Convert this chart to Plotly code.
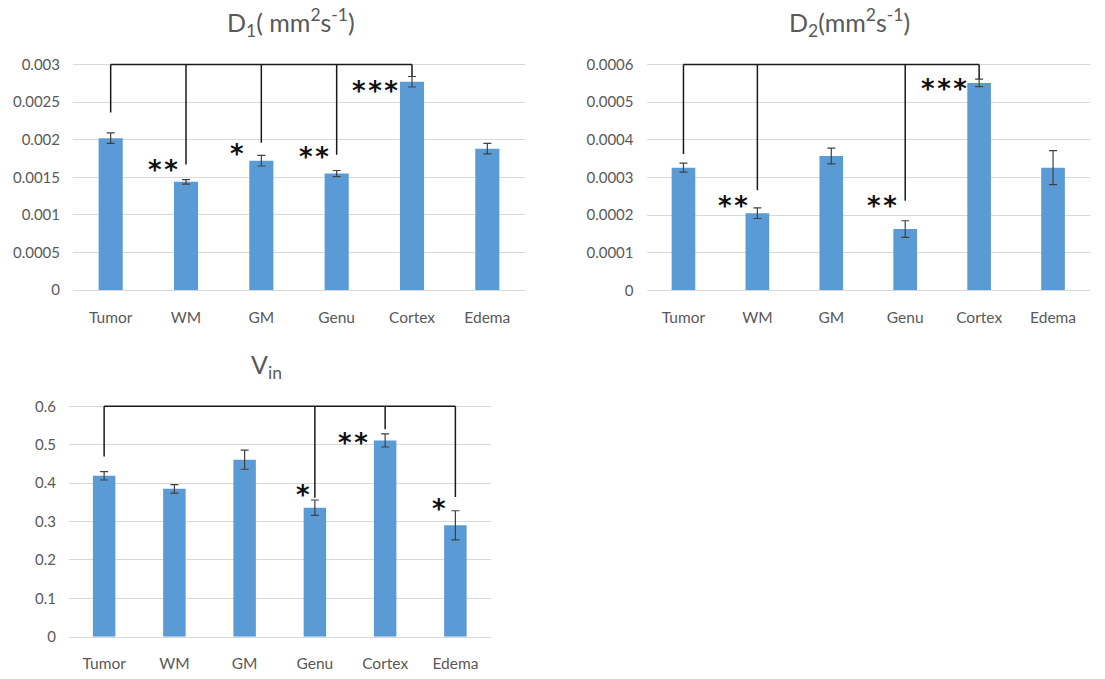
import plotly.graph_objects as go

# Regions compared in the study
categories = ["Tumor", "WM", "GM", "Genu", "Cortex", "Edema"]

# D1 (mm^2 s^-1): means and standard errors
d1_mean = [0.00202, 0.00144, 0.00172, 0.00155, 0.00277, 0.00188]
d1_err = [0.00007, 0.00003, 0.00007, 0.00004, 0.00007, 0.00007]
d1_ticks = [0, 0.0005, 0.001, 0.0015, 0.002, 0.0025, 0.003]
d1_ticktext = ["0", "0.0005", "0.001", "0.0015", "0.002", "0.0025", "0.003"]

# D2 (mm^2 s^-1)
d2_mean = [0.000326, 0.000205, 0.000357, 0.000163, 0.000551, 0.000326]
d2_err = [0.000012, 0.000014, 0.000021, 0.000022, 0.000010, 0.000045]
d2_ticks = [0, 0.0001, 0.0002, 0.0003, 0.0004, 0.0005, 0.0006]
d2_ticktext = ["0", "0.0001", "0.0002", "0.0003", "0.0004", "0.0005", "0.0006"]

# Vin
vin_mean = [0.419, 0.385, 0.461, 0.336, 0.511, 0.290]
vin_err = [0.011, 0.011, 0.025, 0.020, 0.017, 0.038]
vin_ticks = [0, 0.1, 0.2, 0.3, 0.4, 0.5, 0.6]
vin_ticktext = ["0", "0.1", "0.2", "0.3", "0.4", "0.5", "0.6"]

# Significance brackets: (category, stars, where the drop line ends)
d1_sig = [("Tumor", "", 0.00236), ("WM", "**", 0.00167), ("GM", "*", 0.00196),
          ("Genu", "**", 0.00180), ("Cortex", "***", 0.00284)]
d2_sig = [("Tumor", "", 0.000362), ("WM", "**", 0.000266),
          ("Genu", "**", 0.000238), ("Cortex", "***", 0.000561)]
vin_sig = [("Tumor", "", 0.469), ("Genu", "*", 0.362),
           ("Cortex", "**", 0.540), ("Edema", "*", 0.364)]

W, H = 1105, 679
BAR = "#5B9BD5"
GREY = "#595959"
GRID = "#D9D9D9"
FONT = "Lato"


def geometry(px_left, px_right, px_zero, px_top_tick, top_tick, pad=1.04):
    """Pixel box -> (x domain, y domain, y range)."""
    per_unit = (px_zero - px_top_tick) / top_tick
    top_val = top_tick * pad
    px_top = px_zero - top_val * per_unit
    return ([px_left / W, px_right / W],
            [1 - px_zero / H, 1 - px_top / H],
            [0, top_val])


panels = [
    dict(mean=d1_mean, err=d1_err, ticks=d1_ticks, ticktext=d1_ticktext, sig=d1_sig,
         geo=geometry(73, 525, 293, 64.3, 0.003),
         # star label: (horizontal pixel shift, vertical centre in data units)
         star_pos={"WM": (-6, 0.001690), "GM": (-15, 0.00190), "Genu": (-6, 0.00186),
                   "Cortex": (-12, 0.002738)},
         title="D<sub>1</sub>( mm<sup>2</sup>s<sup>-1</sup>)", title_xy=(291, 22)),
    dict(mean=d2_mean, err=d2_err, ticks=d2_ticks, ticktext=d2_ticktext, sig=d2_sig,
         geo=geometry(646.5, 1090, 293.3, 64.3, 0.0006),
         star_pos={"WM": (-7, 0.000244), "Genu": (-6, 0.000244), "Cortex": (-10, 0.000554)},
         title="D<sub>2</sub>(mm<sup>2</sup>s<sup>-1</sup>)", title_xy=(849, 22)),
    dict(mean=vin_mean, err=vin_err, ticks=vin_ticks, ticktext=vin_ticktext, sig=vin_sig,
         geo=geometry(69, 490.5, 644.3, 410.7, 0.6),
         star_pos={"Genu": (-3, 0.386), "Cortex": (-15, 0.523), "Edema": (-7, 0.351)},
         title="V<sub>in</sub>", title_xy=(266, 370)),
]

fig = go.Figure()
shapes = []
annotations = []

for i, p in enumerate(panels, start=1):
    xa = "x" if i == 1 else f"x{i}"
    ya = "y" if i == 1 else f"y{i}"
    xdom, ydom, yrng = p["geo"]

    fig.add_trace(go.Bar(
        x=categories, y=p["mean"], width=0.32,
        marker=dict(color=BAR, line=dict(width=0)),
        error_y=dict(type="data", array=p["err"], visible=True,
                     color="#404040", thickness=1.2, width=4),
        xaxis=xa, yaxis=ya, showlegend=False, hoverinfo="x+y",
    ))

    fig.update_layout(**{
        ("xaxis" if i == 1 else f"xaxis{i}"): dict(
            domain=xdom, anchor=ya, type="category",
            categoryorder="array", categoryarray=categories,
            showgrid=False, zeroline=False, showline=True, linecolor=GRID, linewidth=1,
            ticks="", ticklabelstandoff=13,
            tickfont=dict(family=FONT, size=15.5, color=GREY),
        ),
        ("yaxis" if i == 1 else f"yaxis{i}"): dict(
            domain=ydom, anchor=xa, range=yrng,
            tickvals=p["ticks"], ticktext=p["ticktext"],
            showgrid=True, gridcolor=GRID, gridwidth=1, zeroline=False,
            showline=False, ticks="", ticklabelstandoff=12,
            tickfont=dict(family=FONT, size=15, color=GREY),
        ),
    })

    level = p["ticks"][-1]
    sig = p["sig"]
    line_style = dict(color="#1a1a1a", width=1.5)
    # horizontal bar of the bracket
    shapes.append(dict(type="line", xref=xa, yref=ya, x0=sig[0][0], x1=sig[-1][0],
                       y0=level, y1=level, line=line_style, layer="above"))
    for cat, stars, drop in sig:
        shapes.append(dict(type="line", xref=xa, yref=ya, x0=cat, x1=cat,
                           y0=level, y1=drop, line=line_style, layer="above"))
        if stars:
            dx, sy = p["star_pos"][cat]
            annotations.append(dict(
                xref=xa, yref=ya, x=cat, y=sy, text="\u200a".join(stars), showarrow=False,
                xanchor="right", yanchor="middle", xshift=dx, yshift=-7,
                font=dict(family="DejaVu Sans", size=26, color="#111111", weight="bold"),
            ))

    tx, ty = p["title_xy"]
    annotations.append(dict(
        xref="paper", yref="paper", x=tx / W, y=1 - ty / H, text=p["title"],
        showarrow=False, xanchor="center", yanchor="middle",
        font=dict(family=FONT, size=25, color=GREY),
    ))

fig.update_layout(
    width=W, height=H, margin=dict(l=0, r=0, t=0, b=0),
    paper_bgcolor="white", plot_bgcolor="white",
    shapes=shapes, annotations=annotations, bargap=0.68,
)

fig.write_html("out.html")
